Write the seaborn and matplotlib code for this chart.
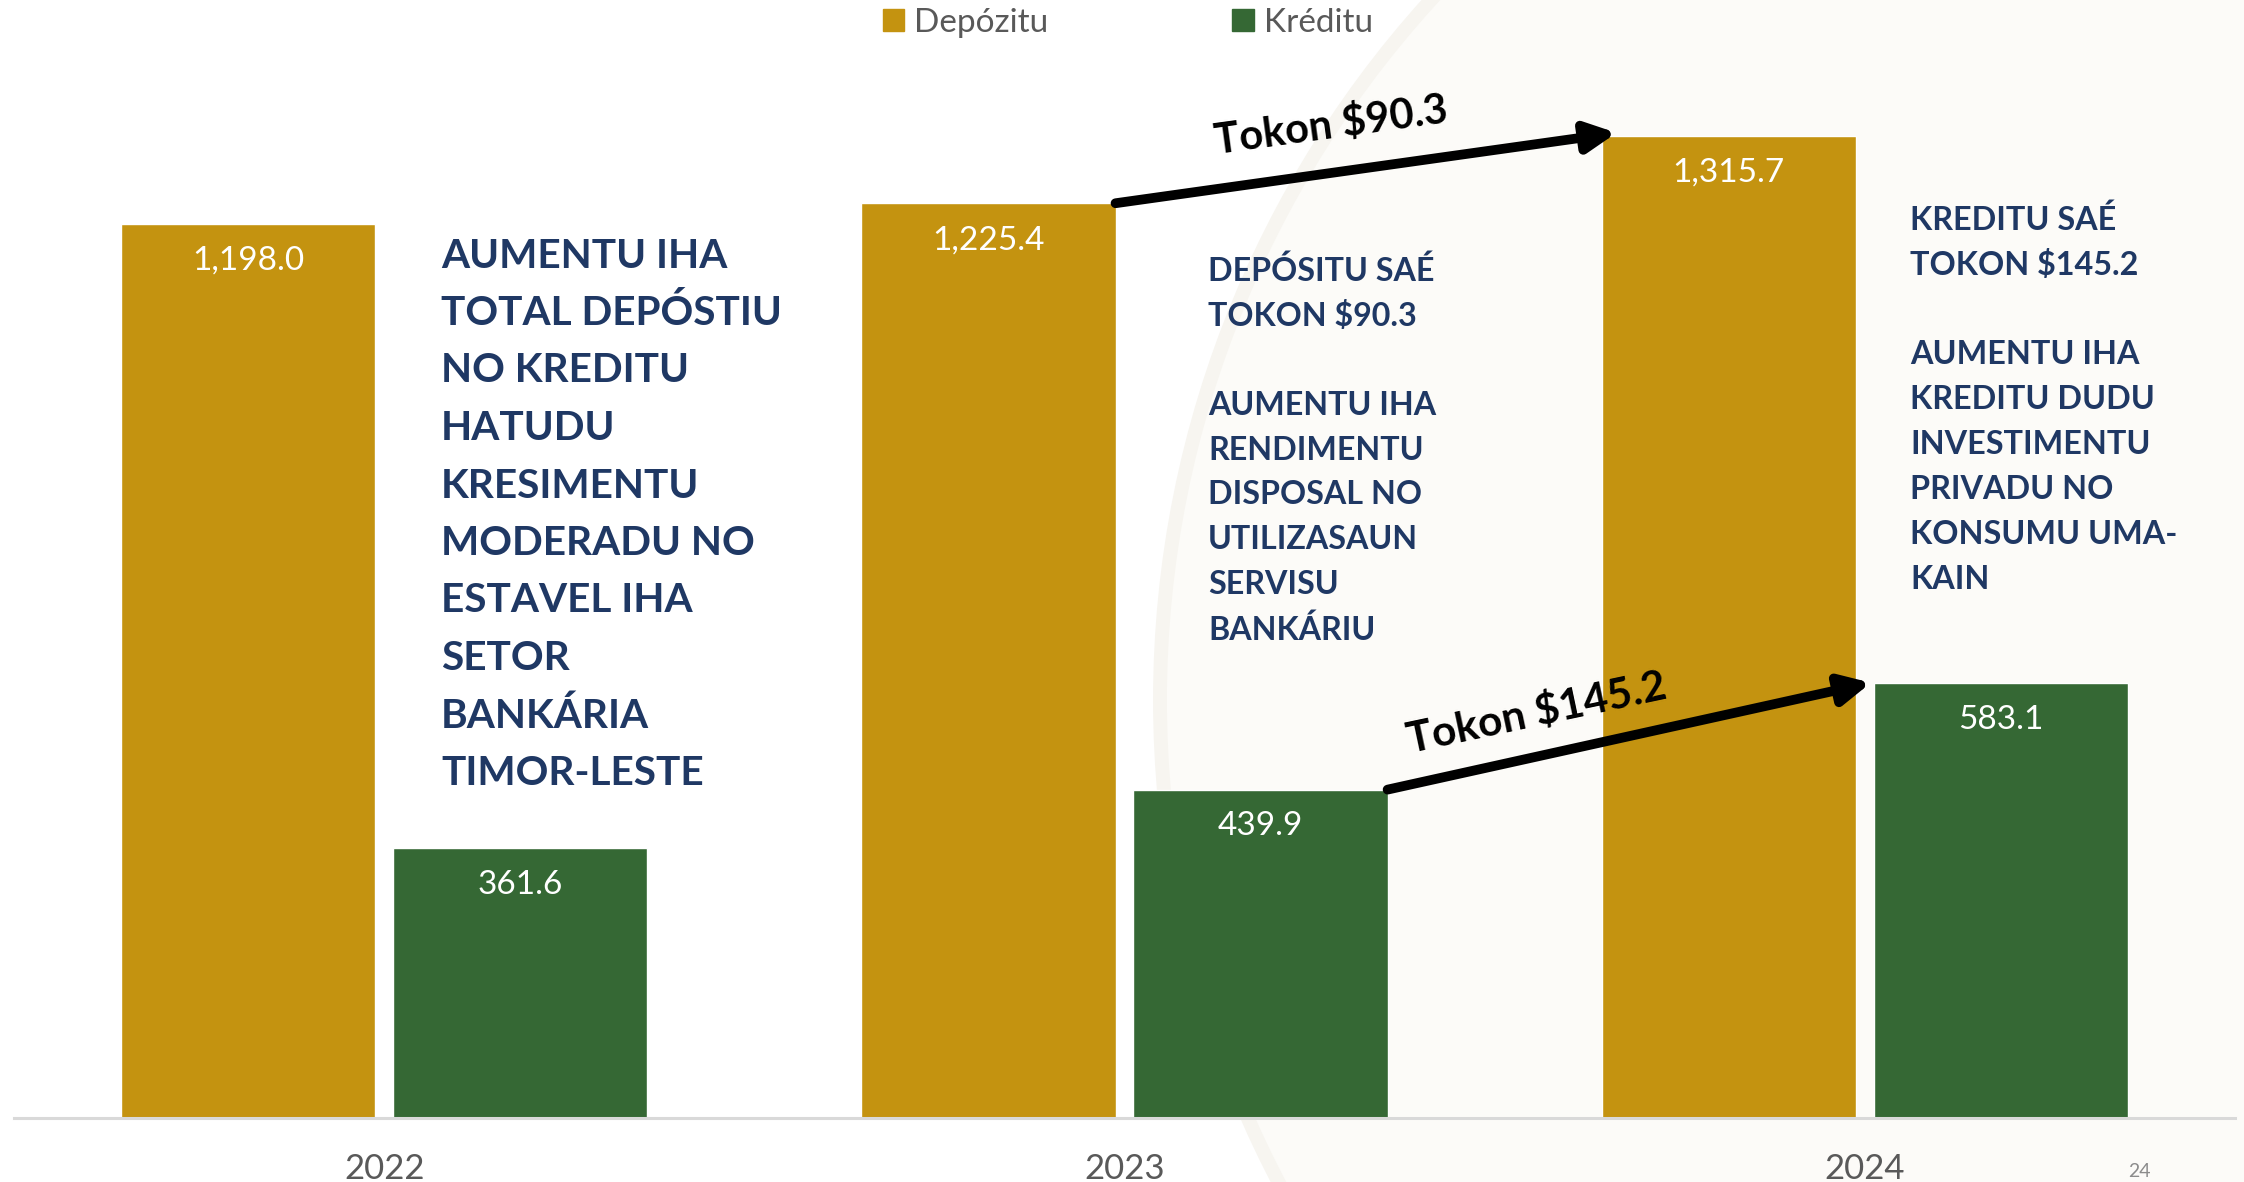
import pandas as pd
import matplotlib.pyplot as plt
import seaborn as sns
from matplotlib.patches import Patch, Circle

# data
years = ['2022', '2023', '2024']
depozitu = [1198.0, 1225.4, 1315.7]
kreditu = [361.6, 439.9, 583.1]
series_names = ['Depózitu', 'Kréditu']

left_note = ['AUMENTU IHA', 'TOTAL DEPÓSTIU', 'NO KREDITU', 'HATUDU', 'KRESIMENTU',
             'MODERADU NO', 'ESTAVEL IHA', 'SETOR', 'BANKÁRIA', 'TIMOR-LESTE']
mid_note = ['DEPÓSITU SAÉ', 'TOKON $90.3', '', 'AUMENTU IHA', 'RENDIMENTU',
            'DISPOSAL NO', 'UTILIZASAUN', 'SERVISU', 'BANKÁRIU']
right_note = ['KREDITU SAÉ', 'TOKON $145.2', '', 'AUMENTU IHA', 'KREDITU DUDU',
              'INVESTIMENTU', 'PRIVADU NO', 'KONSUMU UMA-', 'KAIN']
arrow_labels = ['Tokon $90.3', 'Tokon $145.2']

df = pd.DataFrame({
    'year': years * 2,
    'value': depozitu + kreditu,
    'series': [series_names[0]] * 3 + [series_names[1]] * 3,
})

gold, green = '#C49310', '#356834'
navy = '#1F3864'
W, H = 2244, 1182

sns.set_style('white')
plt.rcParams['font.family'] = ['Lato', 'DejaVu Sans']

fig = plt.figure(figsize=(W / 100, H / 100), dpi=100)

# faint watermark disc behind everything (pixel coords)
fig.patches.append(Circle((2200, 482), 1040, transform=None, facecolor='#FCFBF8',
                          edgecolor='#F7F5F0', lw=10, zorder=-5))

ax = fig.add_axes([14 / W, 64 / H, (2235 - 14) / W, 1118 / H])
ax.set_zorder(1)
ax.patch.set_alpha(0)

sns.barplot(data=df, x='year', y='value', hue='series', palette=[gold, green],
            width=0.735, gap=0.066, saturation=1, errorbar=None, legend=False, ax=ax)
ax.set_xlim(-0.5, 2.5)
ax.set_ylim(0, 1118 / 0.7465)

for s in ['top', 'left', 'right']:
    ax.spines[s].set_visible(False)
ax.spines['bottom'].set_color('#D9D9D9')
ax.spines['bottom'].set_linewidth(2.2)
ax.set_yticks([])
ax.set_xlabel('')
ax.set_ylabel('')
ax.tick_params(axis='x', length=0, pad=25, labelsize=25, labelcolor='#595959')

# value labels inside the bars
for cont in ax.containers:
    for bar in cont:
        h = bar.get_height()
        ax.annotate(f'{h:,.1f}', (bar.get_x() + bar.get_width() / 2, h),
                    xytext=(0, -26.5), textcoords='offset points',
                    ha='center', va='center', color='white', fontsize=24)

# growth arrows
dep_bars = ax.containers[0].patches
kre_bars = ax.containers[1].patches
arrow_kw = dict(arrowstyle='-|>,head_length=1.1,head_width=0.55', mutation_scale=16,
                lw=7, color='black', shrinkA=0, shrinkB=0)
b1, b2 = dep_bars[1], dep_bars[2]
ax.annotate('', xy=(b2.get_x() + 0.02, b2.get_height() + 4),
            xytext=(b1.get_x() + b1.get_width(), b1.get_height()), arrowprops=arrow_kw)
b1, b2 = kre_bars[1], kre_bars[2]
ax.annotate('', xy=(b2.get_x() - 0.004, b2.get_height()),
            xytext=(b1.get_x() + b1.get_width(), b1.get_height()), arrowprops=arrow_kw)

fig.text(1331 / W, 1 - 126 / H, arrow_labels[0], rotation=7.8, ha='center', va='center',
         fontsize=30, fontweight='bold', color='black', rotation_mode='anchor', zorder=5)
fig.text(1537 / W, 1 - 713 / H, arrow_labels[1], rotation=12, ha='center', va='center',
         fontsize=30.5, fontweight='bold', color='black', rotation_mode='anchor', zorder=5)

# text notes
def note(lines, x, y0, step, size):
    for i, line in enumerate(lines):
        if line:
            fig.text(x / W, 1 - (y0 + i * step) / H, line, ha='left', va='center',
                     fontsize=size, fontweight='bold', color=navy, zorder=5)

note(left_note, 441, 256, 57.5, 29.2)
note(mid_note, 1208, 271, 44.8, 23.2)
note(right_note, 1910, 220, 44.9, 23.3)

# legend
handles = [Patch(color=gold, label=series_names[0]), Patch(color=green, label=series_names[1])]
fig.legend(handles=handles, loc='center', bbox_to_anchor=(0.5025, 1 - 23 / H), ncol=2,
           frameon=False, fontsize=24, handlelength=0.65, handleheight=0.65,
           handletextpad=0.3, columnspacing=5.5, labelcolor='#595959')

# page number at the bottom edge
fig.text(2139 / W, 1 - 1180 / H, '24', ha='center', va='bottom', fontsize=14, color='#8C8C8C')

fig.savefig('out.png', dpi=100)
